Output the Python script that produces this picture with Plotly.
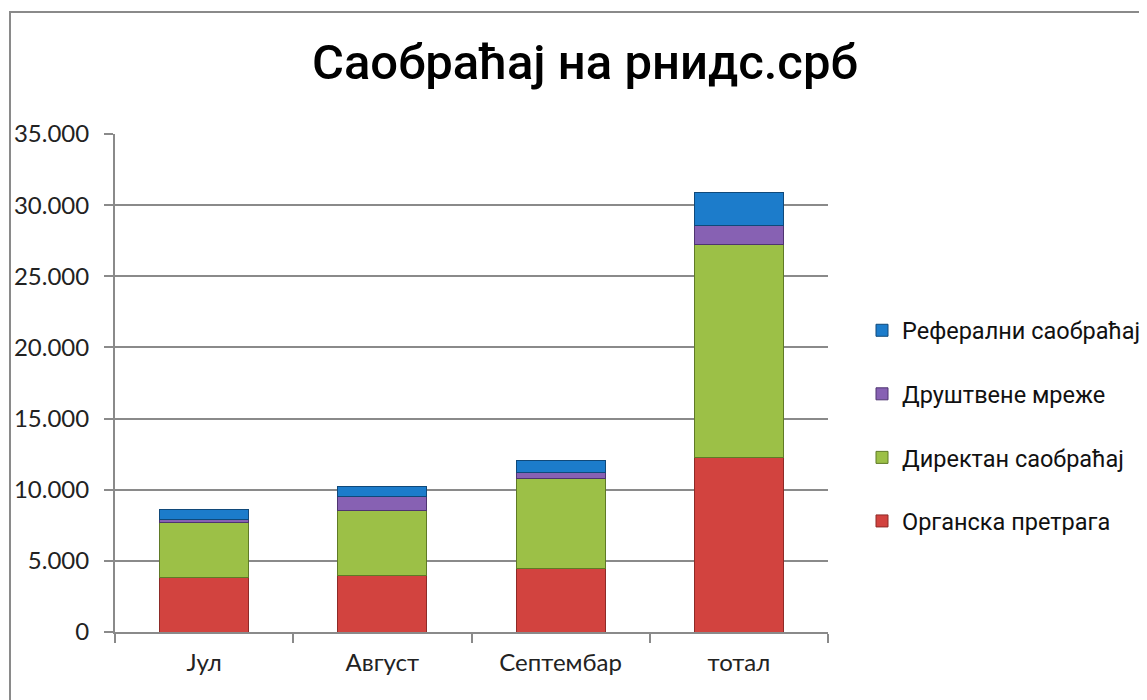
import plotly.graph_objects as go

categories = ["Јул", "Август", "Септембар", "тотал"]
organska = [3820, 3960, 4430, 12280]
direktan = [3870, 4610, 6390, 14920]
drustvene = [190, 940, 380, 1400]
referalni = [750, 700, 820, 2270]

series = [
    ("Органска претрага", organska, "#d2433f", "#8e2a27", 4),
    ("Директан саобраћај", direktan, "#9cc047", "#5f7a26", 3),
    ("Друштвене мреже", drustvene, "#8761b3", "#4e3470", 2),
    ("Реферални саобраћај", referalni, "#1c7ccb", "#10497a", 1),
]

fig = go.Figure()
for i, (name, vals, col, edge, rank) in enumerate(series):
    fig.add_trace(go.Bar(
        x=categories, y=vals, name=name,
        marker=dict(color=col, line=dict(color=edge, width=1)),
        legendgroup="g%d" % i, legendrank=rank,
    ))

L, T = 107, 126
PW, PH = 713, 498
fig.update_layout(
    barmode="stack",
    bargap=0.5,
    width=1147, height=700,
    margin=dict(l=L, r=1147 - L - PW, t=T, b=700 - T - PH, autoexpand=False),
    paper_bgcolor="white", plot_bgcolor="white",
    separators=",.",
    font=dict(family="Lato", size=24, color="#222"),
    title=dict(text="Саобраћај на рнидс.срб", x=577/1147, xref="container", xanchor="center",
               y=1-54/700, yref="container", yanchor="middle",
               font=dict(family="Roboto", size=49, color="#000", weight=500)),
    legend=dict(xref="container", yref="container", x=854/1147, xanchor="left",
                y=1 - 418/700, yanchor="middle",
                traceorder="grouped", tracegroupgap=30, itemwidth=30,
                font=dict(family="Roboto", size=23.5, color="#111"),
                bgcolor="rgba(0,0,0,0)"),
    showlegend=True,
)
fig.update_xaxes(showline=True, linecolor="#8a8a8a", linewidth=2, automargin=False,
                 ticks="outside", tickson="boundaries", ticklen=9, tickwidth=2, tickcolor="#8a8a8a",
                 ticklabelstandoff=8,
                 showgrid=False, tickfont=dict(family="Lato", size=24, color="#222"))
fig.update_yaxes(range=[0, 35000], dtick=5000, tickformat=",d", automargin=False,
                 showline=True, linecolor="#8a8a8a", linewidth=2,
                 ticks="outside", ticklen=9, tickwidth=2, tickcolor="#8a8a8a",
                 ticklabelstandoff=10,
                 showgrid=True, gridcolor="#8a8a8a", gridwidth=2, zeroline=False,
                 tickfont=dict(family="Lato", size=24, color="#222"))

fig.add_shape(type="rect", xref="paper", yref="paper",
              x0=(2 - L)/PW, x1=1.6, y0=-0.5, y1=(T + PH - 4)/PH,
              line=dict(color="#8a8a8a", width=2), fillcolor="rgba(0,0,0,0)", layer="below")

fig.write_html("out.html")
